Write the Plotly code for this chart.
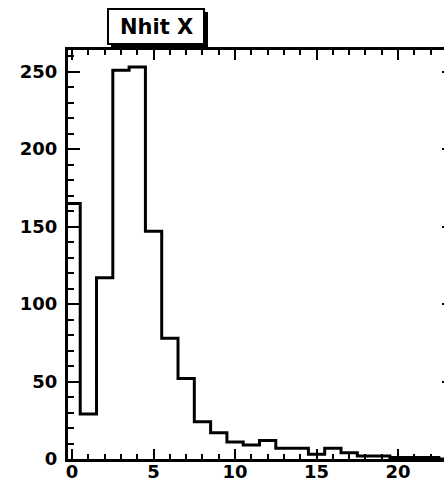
import plotly.graph_objects as go

# Data: histogram "Nhit X", integer bins centred on 0..24
bin_centers = list(range(0, 25))
counts = [165, 29, 117, 251, 253, 147, 78, 52, 24, 17, 11, 9, 12, 7, 7, 3, 7, 4, 2, 2, 1, 1, 1, 0, 0]
x_ticks = [0, 5, 10, 15, 20]
y_ticks = [0, 50, 100, 150, 200, 250]
title_text = "Nhit X"

W, H = 444, 483
L, R, T, B = 68, 0, 50, 24
pw, ph = W - L - R, H - T - B

# step outline from bin edges
edges = [c - 0.5 for c in bin_centers] + [bin_centers[-1] + 0.5]
xs = [edges[0]] + edges[:-1] + [edges[-1], edges[-1]]
ys = [0] + counts + [counts[-1], 0]

fig = go.Figure()
fig.add_trace(go.Scatter(x=xs, y=ys, mode="lines", line=dict(color="black", width=3, shape="hv"),
                         hoverinfo="skip", showlegend=False))
# invisible trace to bind the right-hand tick axis
fig.add_trace(go.Scatter(x=[0], y=[0], yaxis="y2", mode="markers", marker=dict(opacity=0),
                         hoverinfo="skip", showlegend=False))

font = dict(family="DejaVu Sans", size=18, color="black", weight="bold")

fig.update_layout(
    width=W, height=H,
    margin=dict(l=L, r=R, t=T, b=B, pad=0, autoexpand=False),
    paper_bgcolor="white", plot_bgcolor="white",
    xaxis=dict(range=[-0.25, 22.82], tickvals=x_ticks, ticks="inside", ticklen=10, tickwidth=2,
               tickcolor="black", showline=True, linecolor="black", linewidth=3, mirror="ticks",
               showgrid=False, zeroline=False, tickfont=font, ticklabelstandoff=-6, automargin=False,
               minor=dict(ticks="inside", ticklen=5, tickwidth=2, dtick=1, tickcolor="black", showgrid=False)),
    yaxis=dict(range=[0, 264], tickvals=y_ticks, ticks="inside", ticklen=12, tickwidth=2,
               tickcolor="black", showline=True, linecolor="black", linewidth=3, mirror=False,
               showgrid=False, zeroline=False, tickfont=font, ticklabelstandoff=4, automargin=False,
               minor=dict(ticks="inside", ticklen=6, tickwidth=2, dtick=10, tickcolor="black", showgrid=False)),
    yaxis2=dict(range=[0, 264], overlaying="y", side="right", tickvals=y_ticks[1:], ticks="inside",
                ticklen=2, tickwidth=2, tickcolor="black", showline=False, showgrid=False,
                zeroline=False, showticklabels=False, automargin=False),
)

def px(x):
    return (x - L) / pw

def py(y):
    return (H - B - y) / ph

# title box with shadow
fig.add_shape(type="rect", xref="paper", yref="paper", x0=px(111), x1=px(208), y0=py(49), y1=py(12),
              fillcolor="black", line=dict(width=0), layer="above")
fig.add_shape(type="rect", xref="paper", yref="paper", x0=px(108), x1=px(204), y0=py(44), y1=py(9),
              fillcolor="white", line=dict(color="black", width=2), layer="above")
fig.add_annotation(xref="paper", yref="paper", x=px(156), y=py(27), text=title_text, showarrow=False,
                   xanchor="center", yanchor="middle",
                   font=dict(family="DejaVu Sans", size=21, color="black", weight="bold"))

fig.write_html("out.html")
